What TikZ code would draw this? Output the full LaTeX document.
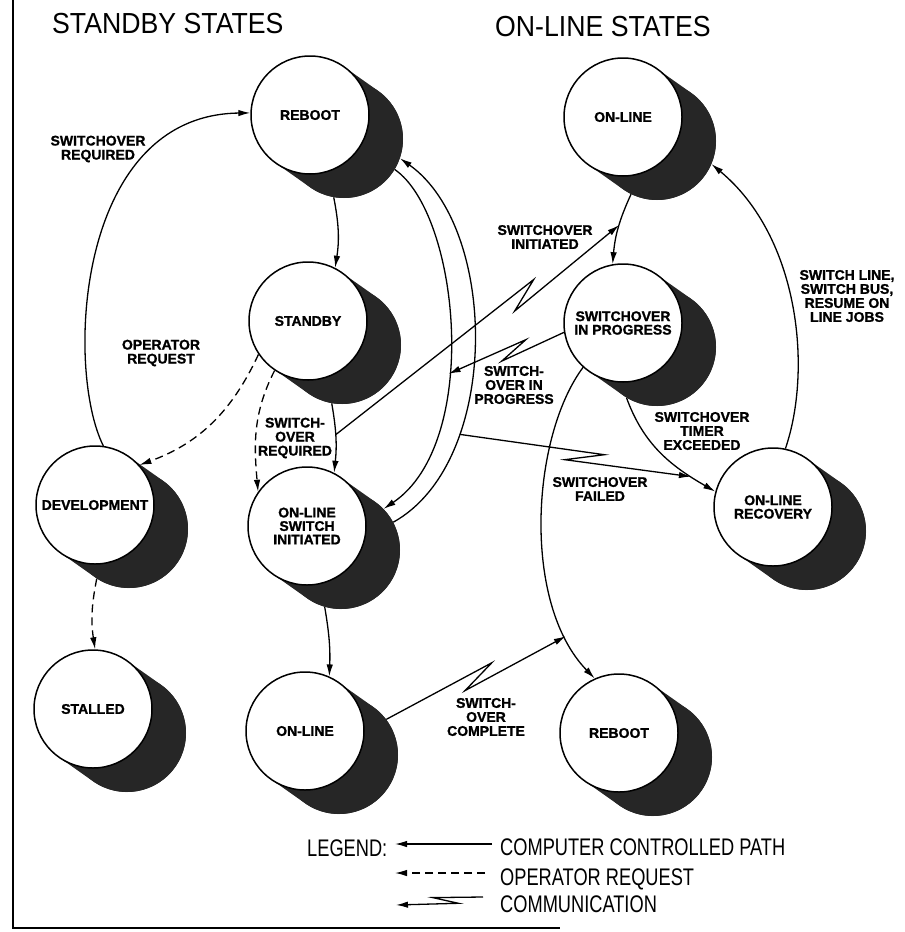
\documentclass[tikz,border=0pt]{standalone}
\usepackage{fontspec}
\setmainfont{Liberation Sans}
\newfontfamily\titlefont[FakeStretch=0.92]{Liberation Sans}
\newfontfamily\legendfont[FakeStretch=0.76]{Liberation Sans}
\newfontfamily\lblfont[BoldFeatures={FakeBold=1.2}]{Liberation Sans}
\usetikzlibrary{arrows.meta,calc}
\colorlet{drumdark}{black!85}
% state drawn as a drum: dark back face, white front face
\newcommand{\drum}[3]{%
  \draw[drumshade] (#2) -- ++(34,-24);
  \node[drumback] (#1b) at ($(#2)+(34,-24)$) {};
  \node[drum] (#1) at (#2) {#3};}

\begin{document}
\begin{tikzpicture}[x=1pt,y=1pt,>={Latex[length=12pt,width=6.5pt]},
  drum/.style={circle,draw,line width=1.5pt,fill=white,minimum size=118pt,inner sep=1pt,
    align=center,font=\lblfont\fontsize{14}{13.5}\selectfont\bfseries},
  drumback/.style={circle,fill=drumdark,minimum size=118pt,inner sep=0pt},
  drumshade/.style={draw=drumdark,line width=118pt,line cap=round},
  lbl/.style={align=center,inner sep=0pt,font=\lblfont\fontsize{14}{14}\selectfont\bfseries},
  trans/.style={->,line width=1.3pt},
  oper/.style={->,line width=1.3pt,dash pattern=on 8pt off 5pt},
  comm/.style n args={4}{->,line width=1.3pt,to path={
    -- ($(\tikztostart)!#1!(\tikztotarget)!#3!(\tikztotarget)!#4!#2:(\tikztotarget)$)
    -- ($(\tikztostart)!#1!(\tikztotarget)!-#3!(\tikztotarget)!-#4!#2:(\tikztotarget)$)
    -- (\tikztotarget) \tikztonodes}},
  title/.style={anchor=base west,inner sep=0pt,font=\titlefont\fontsize{29}{30}\selectfont},
  legend/.style={anchor=base west,inner sep=0pt,font=\legendfont\fontsize{24}{25}\selectfont}]
   \useasboundingbox (0,0) rectangle (905,-932);
   %frame
   \draw[line width=2pt] (13,0) -- (13,-928) -- (560,-928);
   %titles
   \node[title] (stbytitle) at (52,-33) {STANDBY STATES};
   \node[title] (onltitle) at (495,-36) {ON-LINE STATES};
   %states
   \drum{reboot}{310,-115}{REBOOT}
   \drum{online}{623,-117}{ON-LINE}
   \drum{standby}{308,-321}{STANDBY}
   \drum{prog}{623,-323}{SWITCHOVER\\IN PROGRESS}
   \drum{dev}{95,-505}{DEVELOPMENT}
   \drum{initiated}{307,-526}{ON-LINE\\SWITCH\\INITIATED}
   \drum{recovery}{773,-507}{ON-LINE\\RECOVERY}
   \drum{stalled}{93,-709}{STALLED}
   \drum{online2}{305,-731}{ON-LINE}
   \drum{reboot2}{619,-733}{REBOOT}
   %computer controlled paths
   \draw[trans] (dev.82) .. controls +(-38,76) and +(-175,-2) .. (reboot.178);
   \draw[trans] (rebootb.260) to[bend left=10] (standby.63);
   \draw[trans] (standbyb.260) to[bend left=8] coordinate[pos=.45] (c1s) (initiated.63);
   \draw[trans] (initiatedb.254) to[bend left=6] (online2.66);
   \draw[trans] (onlineb.244) to[bend right=10] coordinate[pos=.45] (c1e) (prog.100);
   \draw[trans] (rebootb.329) .. controls +(65,-45) and +(98,66) .. (initiatedb.44) coordinate[pos=.6] (c2e);
   \draw[trans] (initiatedb.28) .. controls +(108,60) and +(99,-70) .. (rebootb.341) coordinate[pos=.29] (c3s);
   \draw[trans] (progb.239) to[out=290,in=150] coordinate[pos=.8] (c3e) (recovery.165);
   \draw[trans] (prog.228) .. controls +(-52,-70) and +(-73,75) .. (reboot2.114) coordinate[pos=.84] (c4e);
   \draw[trans] (recovery.78) .. controls +(27,79) and +(88,-73) .. (onlineb.337);
   %operator requests
   \draw[oper] (standby.214) to[out=245,in=20] (dev.42);
   \draw[oper] (standby.236) to[out=243,in=95] (initiated.145);
   \draw[oper] (devb.237) to[bend right=10] (stalled.88);
   %communication
   \draw[comm={.665}{90}{17pt}{7pt}] (c1s) to (c1e);
   \draw[comm={.435}{90}{15pt}{6pt}] (prog.189) to (c2e);
   \draw[comm={.54}{90}{19pt}{6pt}] (c3s) to (c3e);
   \draw[comm={.513}{90}{18pt}{7pt}] (online2b.37) to (c4e);
   %description
   \node[lbl] (lreq) at (98,-149) {SWITCHOVER\\REQUIRED};
   \node[lbl] (lopr) at (161,-353) {OPERATOR\\REQUEST};
   \node[lbl] (lreq2) at (295,-438) {SWITCH-\\OVER\\REQUIRED};
   \node[lbl] (linit) at (545,-237) {SWITCHOVER\\INITIATED};
   \node[lbl] (lprog) at (514,-385) {SWITCH-\\OVER IN\\PROGRESS};
   \node[lbl] (ltimer) at (702,-431) {SWITCHOVER\\TIMER\\EXCEEDED};
   \node[lbl] (lfail) at (600,-489) {SWITCHOVER\\FAILED};
   \node[lbl] (lresume) at (847,-296) {SWITCH LINE,\\SWITCH BUS,\\RESUME ON\\LINE JOBS};
   \node[lbl] (lcompl) at (486,-717) {SWITCH-\\OVER\\COMPLETE};
   %legend
   \node[legend] (lgtitle) at (307,-856) {LEGEND:};
   \node[legend] (lgcomp) at (500,-855) {COMPUTER CONTROLLED PATH};
   \node[legend] (lgoper) at (500,-885) {OPERATOR REQUEST};
   \node[legend] (lgcomm) at (500,-912) {COMMUNICATION};
   \coordinate (lg1a) at (492,-844); \coordinate (lg1b) at (395,-844);
   \coordinate (lg2a) at (485,-873); \coordinate (lg2b) at (395,-873);
   \coordinate (lg3a) at (483,-897); \coordinate (lg3b) at (396,-905);
   \draw[trans] (lg1a) -- (lg1b);
   \draw[oper] (lg2a) -- (lg2b);
   \draw[comm={.43}{-90}{12.5pt}{4pt}] (lg3a) to (lg3b);
\end{tikzpicture}
\end{document}
